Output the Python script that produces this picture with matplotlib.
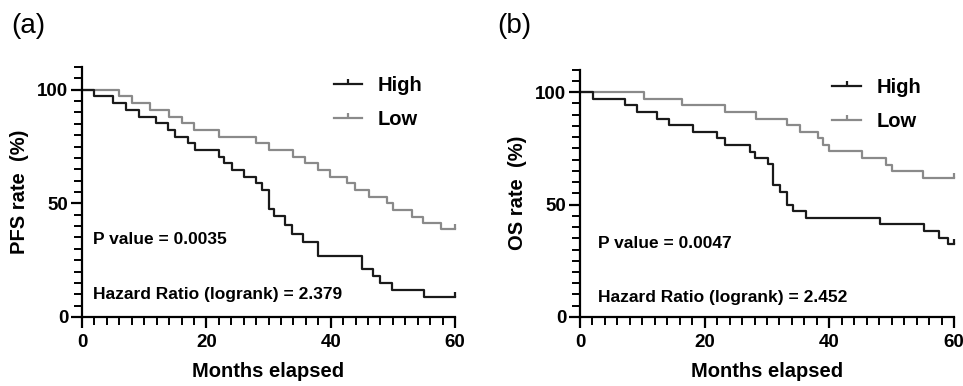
import matplotlib.pyplot as plt
import numpy as np
from matplotlib.lines import Line2D
from matplotlib.ticker import MultipleLocator

plt.rcParams['font.family'] = ['Liberation Sans', 'DejaVu Sans']

# Kaplan-Meier step data (months, survival %)
pfs_high_t = [0, 2.0, 5.0, 7.0, 9.1, 11.9, 13.9, 15.0, 17.1, 18.1, 22.0, 22.9, 24.1, 26.0, 28.0, 28.9,
              30.0, 30.9, 32.7, 33.7, 35.6, 38.0, 45.0, 46.8, 47.9, 49.9, 55.0]
pfs_high_s = [100, 97.1, 94.1, 91.2, 88.2, 85.3, 82.4, 79.4, 76.5, 73.5, 70.6, 67.6, 64.7, 61.8, 58.8, 55.9,
              47.5, 44.5, 40.5, 36.5, 33.0, 26.7, 21.0, 18.0, 15.0, 11.8, 8.8]
pfs_low_t = [0, 6.0, 8.0, 11.0, 14.0, 16.0, 18.0, 22.0, 28.0, 30.1, 34.0, 35.9, 38.0, 39.9, 42.7, 43.9,
             46.1, 49.0, 50.1, 53.0, 54.9, 57.8]
pfs_low_s = [100, 97.1, 94.1, 91.2, 88.2, 85.3, 82.4, 79.4, 76.5, 73.5, 70.6, 67.6, 64.7, 61.8, 58.8, 55.9,
             52.9, 50.0, 47.1, 44.1, 41.2, 38.5]

os_high_t = [0, 2.1, 7.2, 9.2, 12.3, 14.2, 18.2, 22.0, 23.3, 27.3, 28.1, 30.2, 31.0, 32.1, 33.2, 34.2,
             36.3, 48.1, 55.2, 57.6, 59.1]
os_high_s = [100, 97.1, 94.1, 91.2, 88.2, 85.3, 82.4, 79.4, 76.5, 73.5, 70.6, 67.8, 58.7, 55.7, 49.8, 47.2,
             44.1, 41.2, 38.2, 35.3, 32.4]
os_low_t = [0, 10.2, 16.3, 23.3, 28.2, 33.2, 35.3, 38.2, 39.0, 40.0, 45.2, 49.1, 50.0, 55.1]
os_low_s = [100, 97.1, 94.1, 91.2, 88.2, 85.3, 82.4, 79.4, 76.5, 73.9, 70.5, 67.6, 64.8, 61.7]

end_month = 60
panels = [
    ("(a)", "PFS rate  (%)", pfs_high_t, pfs_high_s, pfs_low_t, pfs_low_s,
     "P value = 0.0035", "Hazard Ratio (logrank) = 2.379"),
    ("(b)", "OS rate  (%)", os_high_t, os_high_s, os_low_t, os_low_s,
     "P value = 0.0047", "Hazard Ratio (logrank) = 2.452"),
]

high_color = "#1a1a1a"
low_color = "#8a8a8a"
# upward censor tick
censor = [(0, 0), (0, 1)]

fig = plt.figure(figsize=(9.63, 3.86), dpi=100)
axes_pos = [[0.0852, 0.1788, 0.3873, 0.6476], [0.6023, 0.1788, 0.3884, 0.6410]]
letter_x = [0.012, 0.516]
text_x = [0.03, 0.048]
p_y = [0.31, 0.295]
hr_y = [0.09, 0.08]

for k, (letter, ylabel, ht, hs, lt, ls, ptxt, hrtxt) in enumerate(panels):
    ax = fig.add_axes(axes_pos[k])
    for t, s, c in [(lt, ls, low_color), (ht, hs, high_color)]:
        tt = list(t) + [end_month]
        ss = list(s) + [s[-1]]
        ax.step(tt, ss, where='post', color=c, lw=1.6, clip_on=False)
        ax.plot([end_month], [s[-1]], marker=censor, ms=7, mew=1.6, color=c,
                clip_on=False, ls='none')

    ax.set_xlim(0, 60)
    ax.set_ylim(0, 110)
    ax.xaxis.set_major_locator(MultipleLocator(20))
    ax.xaxis.set_minor_locator(MultipleLocator(2))
    ax.yaxis.set_minor_locator(MultipleLocator(5))
    ax.set_yticks([0, 50, 100])
    for side in ['top', 'right']:
        ax.spines[side].set_visible(False)
    for side in ['left', 'bottom']:
        ax.spines[side].set_linewidth(1.6)
    ax.tick_params(which='major', direction='out', length=8, width=1.6, labelsize=13.5)
    ax.tick_params(axis='x', which='major', pad=4)
    ax.tick_params(axis='y', which='major', pad=2)
    ax.tick_params(which='minor', direction='out', length=5.5, width=1.4)
    for lab in ax.get_xticklabels() + ax.get_yticklabels():
        lab.set_fontweight('bold')

    ax.set_xlabel("Months elapsed", fontsize=14.5, fontweight='bold', labelpad=8)
    ax.set_ylabel(ylabel, fontsize=14.5, fontweight='bold', labelpad=6)

    ax.text(text_x[k], p_y[k], ptxt, transform=ax.transAxes, fontsize=12.5,
            fontweight='bold', va='center', ha='left')
    ax.text(text_x[k], hr_y[k], hrtxt, transform=ax.transAxes, fontsize=12.5,
            fontweight='bold', va='center', ha='left')

    handles = [Line2D([], [], color=high_color, lw=1.6, marker=censor, ms=7, mew=1.6),
               Line2D([], [], color=low_color, lw=1.6, marker=censor, ms=7, mew=1.6)]
    ax.legend(handles, ["High", "Low"], loc='upper left', bbox_to_anchor=(0.675, 0.965),
              frameon=False, handlelength=1.4, handletextpad=0.8,
              labelspacing=0.75, borderpad=0, borderaxespad=0,
              prop={'weight': 'bold', 'size': 14.5})

    fig.text(letter_x[k], 0.932, letter, fontsize=20, ha='left', va='center')

fig.savefig("out.png", dpi=100)
